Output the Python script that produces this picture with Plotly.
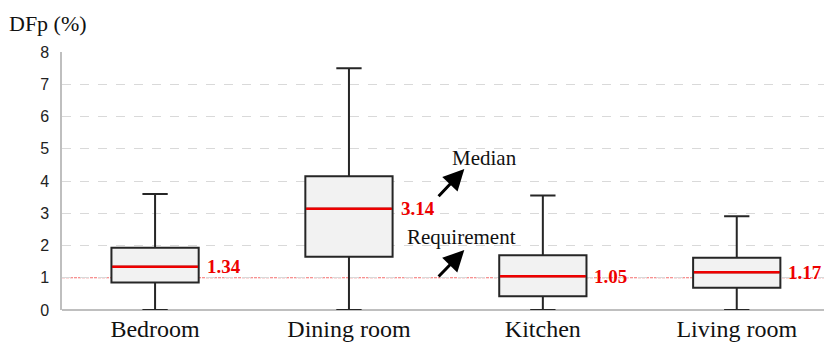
import plotly.graph_objects as go

# Daylight factor (DFp, %) summary per room type
rooms = ["Bedroom", "Dining room", "Kitchen", "Living room"]
lower_fence = [0.0, 0.0, 0.0, 0.0]
q1 = [0.85, 1.65, 0.43, 0.69]
median = [1.34, 3.14, 1.05, 1.17]
q3 = [1.93, 4.15, 1.70, 1.62]
upper_fence = [3.60, 7.50, 3.55, 2.91]
requirement = 1.0
y_ticks = [0, 1, 2, 3, 4, 5, 6, 7, 8]

positions = list(range(len(rooms)))
box_w = 0.45
serif = "Liberation Serif, Times New Roman, serif"
red = "#ee0000"

fig = go.Figure()

for i, name in enumerate(rooms):
    fig.add_trace(go.Box(
        x=[positions[i]], q1=[q1[i]], median=[median[i]], q3=[q3[i]],
        lowerfence=[lower_fence[i]], upperfence=[upper_fence[i]],
        width=box_w, whiskerwidth=0.29,
        fillcolor="#f2f2f2", line=dict(color="#262626", width=2),
        boxpoints=False, showlegend=False, name=name,
    ))
    # red median bar drawn over the box's own median line
    fig.add_trace(go.Scatter(
        x=[positions[i] - box_w / 2 + 0.004, positions[i] + box_w / 2 - 0.004],
        y=[median[i], median[i]],
        mode="lines", line=dict(color=red, width=2.5),
        showlegend=False, hoverinfo="skip",
    ))
    fig.add_annotation(
        x=positions[i] + box_w / 2, y=median[i], text=f"{median[i]:.2f}",
        xanchor="left", yanchor="middle", xshift=6, showarrow=False,
        font=dict(family=serif, size=19, color=red, weight="bold"),
    )

# minimum requirement line
fig.add_shape(type="line", xref="paper", x0=0, x1=1, yref="y",
              y0=requirement, y1=requirement,
              line=dict(color="rgba(240,60,60,0.75)", width=1, dash="3px,1px"),
              layer="below")

# call-out arrows
fig.add_annotation(x=1.595, y=4.37, ax=1.455, ay=3.48, axref="x", ayref="y",
                   showarrow=True, arrowhead=2, arrowsize=1.4, arrowwidth=3,
                   arrowcolor="#000000", text="")
fig.add_annotation(x=1.595, y=1.86, ax=1.455, ay=0.99, axref="x", ayref="y",
                   showarrow=True, arrowhead=2, arrowsize=1.4, arrowwidth=3,
                   arrowcolor="#000000", text="")
fig.add_annotation(x=1.52, y=4.72, text="Median", showarrow=False,
                   xanchor="left", yanchor="middle",
                   font=dict(family=serif, size=21, color="#111111"))
fig.add_annotation(x=1.29, y=2.27, text="Requirement", showarrow=False,
                   xanchor="left", yanchor="middle",
                   font=dict(family=serif, size=21, color="#111111"))

# axis title placed above the y axis
fig.add_annotation(xref="paper", yref="paper", x=-0.072, y=1.0, yshift=29,
                   text="DFp (%)", showarrow=False, xanchor="left", yanchor="middle",
                   font=dict(family=serif, size=22, color="#111111"))

fig.update_layout(
    width=827, height=344,
    margin=dict(l=62, r=3, t=52, b=34),
    plot_bgcolor="white", paper_bgcolor="white",
    xaxis=dict(
        range=[-0.48, 3.45], tickvals=positions, ticktext=rooms,
        showgrid=False, zeroline=False, showline=False, ticks="",
        tickfont=dict(family=serif, size=24, color="#111111"),
        ticklabelstandoff=2, automargin=False,
    ),
    yaxis=dict(
        range=[0, 8], tickvals=y_ticks, showgrid=True,
        gridcolor="#d9d9d9", griddash="dash", gridwidth=1,
        zeroline=True, zerolinecolor="#bfbfbf", zerolinewidth=1.5,
        showline=True, linecolor="#bfbfbf", linewidth=1.5, ticks="",
        tickfont=dict(family="Liberation Sans, Arial, sans-serif", size=16, color="#222222"),
        ticklabelstandoff=8, automargin=False,
    ),
)

fig.write_html("out.html")
